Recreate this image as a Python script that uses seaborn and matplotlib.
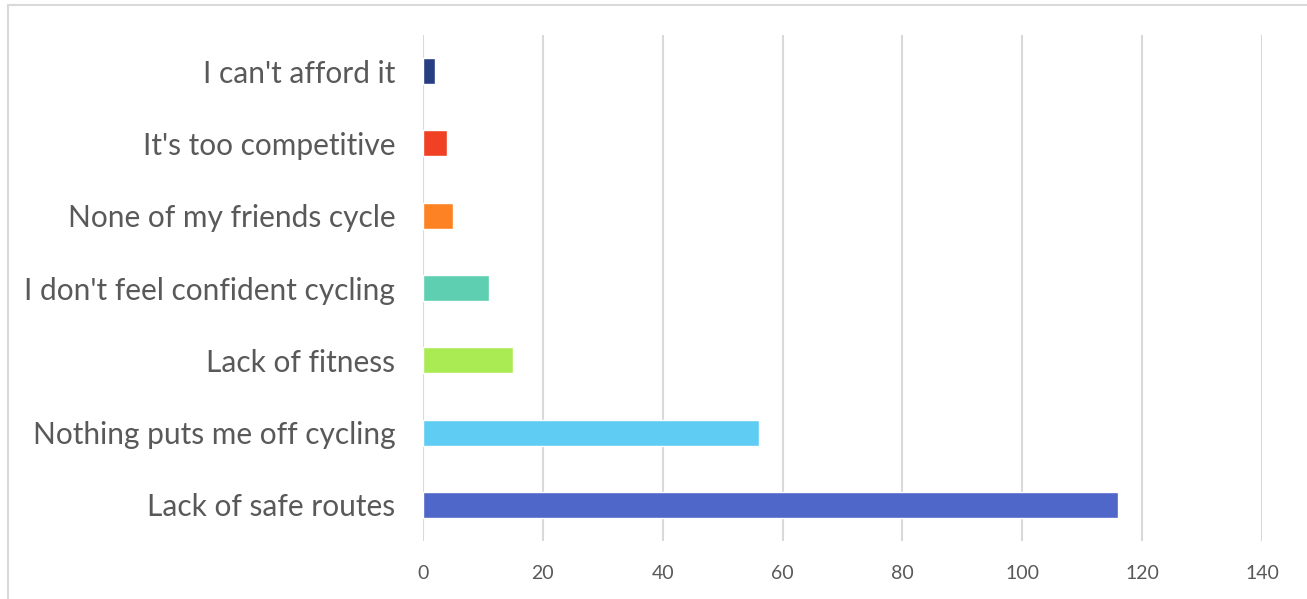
import matplotlib
matplotlib.use("Agg")
import matplotlib.pyplot as plt
import seaborn as sns
import pandas as pd
from matplotlib.patches import Rectangle

categories = [
    "I can't afford it",
    "It's too competitive",
    "None of my friends cycle",
    "I don't feel confident cycling",
    "Lack of fitness",
    "Nothing puts me off cycling",
    "Lack of safe routes",
]
counts = [2, 4, 5, 11, 15, 56, 116]
bar_colors = ["#283e83", "#f04124", "#fd8223", "#5ecfb1", "#aaea53", "#5fccf3", "#4f67c8"]
x_ticks = [0, 20, 40, 60, 80, 100, 120, 140]

df = pd.DataFrame({"reason": categories, "count": counts})

sns.set_theme(style="white")
plt.rcParams["font.family"] = ["Lato", "DejaVu Sans"]

W, H = 1307, 599
fig = plt.figure(figsize=(W / 100, H / 100), dpi=100)
ax = fig.add_axes([423 / W, 1 - 541 / H, (1262 - 423) / W, (541 - 35) / H])

sns.barplot(data=df, x="count", y="reason", hue="reason", palette=bar_colors,
            order=categories, hue_order=categories, width=0.36, legend=False,
            saturation=1, ax=ax, zorder=3)

ax.set_xlim(0, 140)
ax.set_ylim(6.5, -0.5)
ax.set_xticks(x_ticks)
ax.set_xticklabels([str(t) for t in x_ticks])
ax.set_xlabel("")
ax.set_ylabel("")
for s in ax.spines.values():
    s.set_visible(False)
ax.grid(False)
for t in x_ticks:
    ax.axvline(t, color="#d9d9d9", lw=1.5, zorder=1)

ax.tick_params(axis="x", length=0, pad=17, labelsize=14, labelcolor="#595959")
ax.tick_params(axis="y", length=0, pad=20, labelsize=21.5, labelcolor="#595959")

# outer chart border
fig.patches.append(Rectangle((8 / W, -0.1), 1.2, 1 - 5 / H + 0.1, transform=fig.transFigure,
                             fill=False, edgecolor="#d9d9d9", lw=1.5, zorder=0))

fig.savefig("out.png", dpi=100, facecolor="white")
